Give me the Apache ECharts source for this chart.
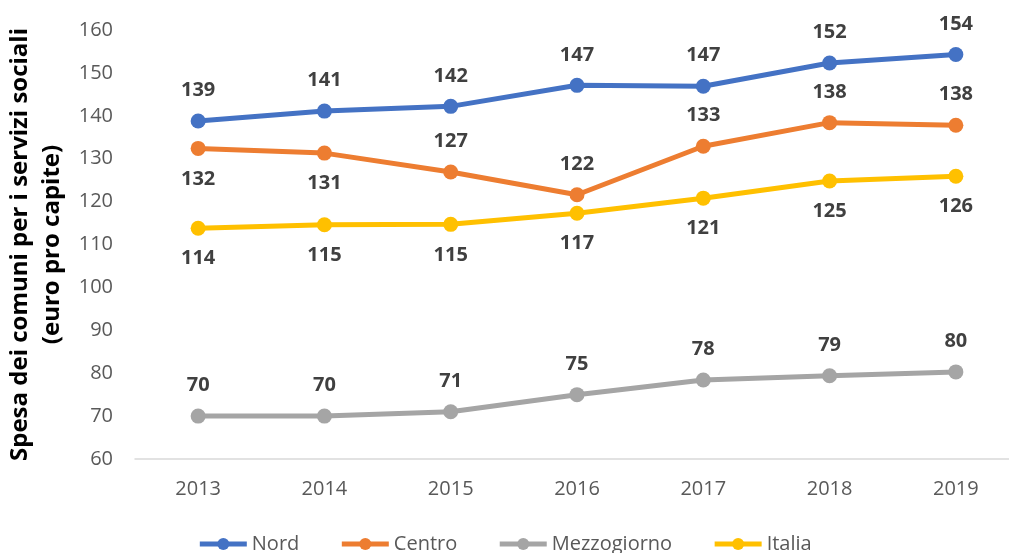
<!DOCTYPE html>
<html>
<head>
<meta charset="utf-8">
<script src="https://cdn.jsdelivr.net/npm/echarts@6/dist/echarts.min.js"></script>
<style>
  html, body { margin: 0; padding: 0; background: #fff; }
  #chart { width: 1009px; height: 553px; }
</style>
</head>
<body>
<div id="chart"></div>
<script>
const years = ["2013", "2014", "2015", "2016", "2017", "2018", "2019"];
const nord = [138.8, 141.1, 142.2, 147.1, 146.9, 152.3, 154.3];
const centro = [132.4, 131.3, 126.9, 121.6, 132.9, 138.4, 137.8];
const mezzogiorno = [70.0, 70.0, 71.0, 75.0, 78.4, 79.4, 80.3];
const italia = [113.8, 114.6, 114.7, 117.3, 120.8, 124.8, 125.9];
// label above or below each point of Centro
const centroLabelPos = ["bottom", "bottom", "top", "top", "top", "top", "top"];

const labelStyle = {
    show: true,
    fontFamily: "Open Sans",
    fontWeight: "bold",
    fontSize: 20,
    color: "#404040",
    distance: 13,
    formatter: p => Math.round(p.value)
};

function lineSeries(name, color, values, pos) {
    return {
        name: name,
        type: "line",
        data: values.map((v, i) => ({
            value: v,
            label: { position: Array.isArray(pos) ? pos[i] : pos }
        })),
        symbol: "circle",
        symbolSize: 15,
        lineStyle: { width: 5, color: color },
        itemStyle: { color: color },
        label: labelStyle,
        emphasis: { disabled: true }
    };
}

let chart = echarts.init(document.getElementById("chart"));
chart.setOption({
    animation: false,
    grid: { left: 135, top: 30, width: 884, height: 429, outerBoundsMode: "none", containLabel: false },
    legend: {
        bottom: -6,
        left: "center",
        itemWidth: 47,
        itemHeight: 15,
        itemGap: 40,
        lineStyle: { width: 5 },
        textStyle: { fontFamily: "Open Sans", fontSize: 20, color: "#595959" },
        data: ["Nord", "Centro", "Mezzogiorno", "Italia"]
    },
    xAxis: {
        type: "category",
        data: years,
        boundaryGap: true,
        axisLine: { lineStyle: { color: "#d9d9d9", width: 1.5 } },
        axisTick: { show: false },
        axisLabel: { fontFamily: "Open Sans", fontSize: 20, color: "#595959", margin: 20 }
    },
    yAxis: {
        type: "value",
        min: 60,
        max: 160,
        interval: 10,
        name: "Spesa dei comuni per i servizi sociali\n(euro pro capite)",
        nameLocation: "middle",
        nameGap: 63,
        nameTextStyle: {
            fontFamily: "Open Sans",
            fontWeight: "bold",
            fontSize: 24,
            color: "#000",
            lineHeight: 32
        },
        axisLine: { show: false },
        axisTick: { show: false },
        splitLine: { show: false },
        axisLabel: { fontFamily: "Open Sans", fontSize: 20, color: "#595959", margin: 22 }
    },
    series: [
        lineSeries("Nord", "#4472C4", nord, "top"),
        lineSeries("Centro", "#ED7D31", centro, centroLabelPos),
        lineSeries("Mezzogiorno", "#A5A5A5", mezzogiorno, "top"),
        lineSeries("Italia", "#FFC000", italia, "bottom")
    ]
});
</script>
</body>
</html>
